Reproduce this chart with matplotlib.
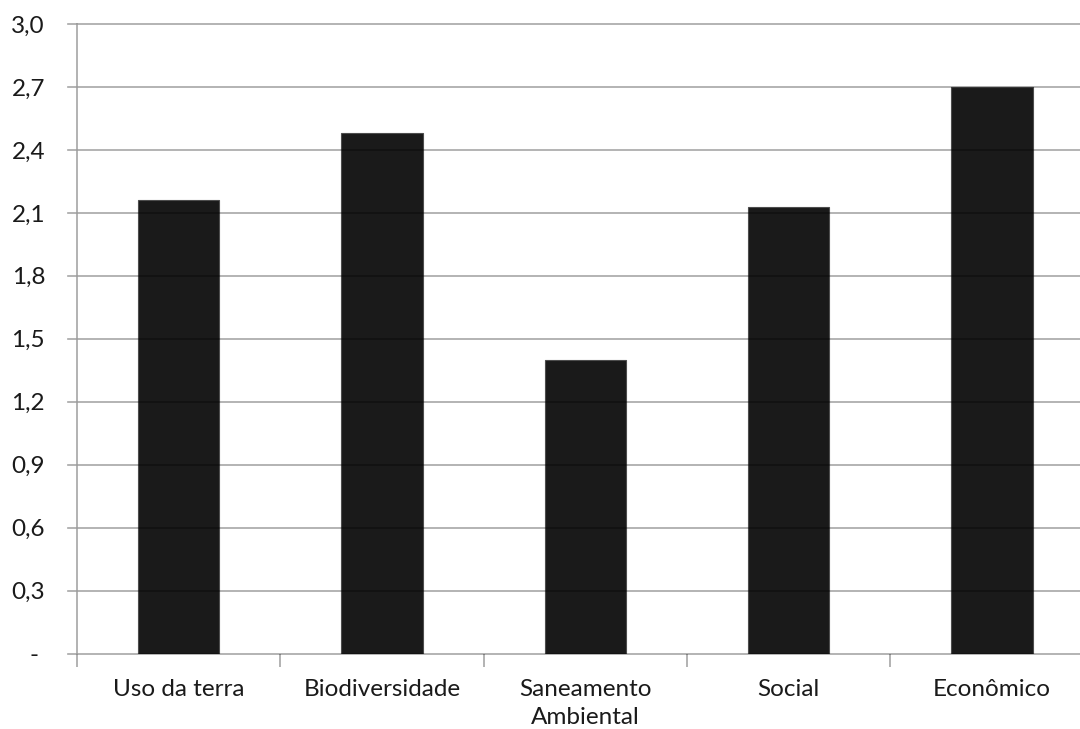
import matplotlib
matplotlib.use("Agg")
import matplotlib.pyplot as plt
import numpy as np

categories = ["Uso da terra", "Biodiversidade", "Saneamento\nAmbiental", "Social", "Econômico"]
values = [2.16, 2.48, 1.40, 2.13, 2.70]
y_ticks = [0.0, 0.3, 0.6, 0.9, 1.2, 1.5, 1.8, 2.1, 2.4, 2.7, 3.0]
y_tick_labels = ["- ", "0,3", "0,6", "0,9", "1,2", "1,5", "1,8", "2,1", "2,4", "2,7", "3,0"]

plt.rcParams['font.family'] = ['Lato', 'DejaVu Sans']

fig = plt.figure(figsize=(10.8, 7.29), dpi=100)
ax = fig.add_axes([77 / 1080, 75.5 / 729, 1016.5 / 1080, 629.5 / 729])

x = np.arange(len(categories))
ax.bar(x, values, width=0.40, color="#1a1a1a", edgecolor="#4d4d4d", linewidth=0.8, zorder=2)

ax.set_xlim(-0.5, len(categories) - 0.5)
ax.set_ylim(0, 3.0)

# horizontal gridlines drawn over the bars with transparency, with short outward stubs
stub = 9 / 1016.5
for yv in y_ticks:
    ax.axhline(yv, color="black", alpha=0.35, linewidth=1.2, zorder=3, clip_on=False)
    ax.plot([-stub, 0], [yv, yv], transform=ax.get_yaxis_transform(), color="black",
            alpha=0.35, linewidth=1.2, clip_on=False, zorder=3)

ax.set_yticks(y_ticks)
ax.set_yticklabels(y_tick_labels, fontsize=17.5, color="#1a1a1a")
ax.tick_params(axis="y", length=0, pad=23)

ax.set_xticks(x)
ax.set_xticklabels(categories, fontsize=17.5, color="#1a1a1a", linespacing=1.45)
ax.tick_params(axis="x", which="major", length=0, pad=18)
ax.set_xticks(np.arange(-0.5, len(categories) + 0.5, 1.0), minor=True)
ax.tick_params(axis="x", which="minor", length=9, width=1.2, color="#a6a6a6", direction="out")

for side in ["top", "right", "bottom"]:
    ax.spines[side].set_visible(False)
ax.spines["left"].set_color("#a6a6a6")
ax.spines["left"].set_linewidth(1.2)
ax.spines["left"].set_zorder(4)

fig.savefig("out.png", dpi=100, facecolor="white")
